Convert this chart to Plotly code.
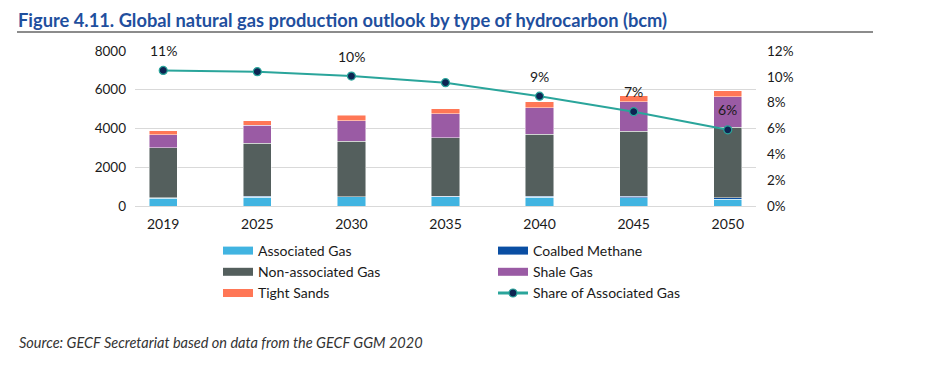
import plotly.graph_objects as go

years = ["2019", "2025", "2030", "2035", "2040", "2045", "2050"]
associated_gas = [408, 458, 471, 480, 457, 416, 350]
coalbed_methane = [22, 42, 19, 15, 35, 100, 65]
non_associated_gas = [2575, 2728, 2842, 3028, 3202, 3354, 3642]
shale_gas = [674, 933, 1072, 1244, 1368, 1519, 1575]
tight_sands = [207, 243, 275, 259, 311, 310, 311]
share_associated = [0.105, 0.104, 0.1006, 0.0955, 0.085, 0.073, 0.059]
share_labels = ["11%", "", "10%", "", "9%", "7%", "6%"]

FONT = "Lato"
TXT = "#1a1a1a"
W, H = 934, 357
OFF = 8
L, T = 135 - OFF, 51 - OFF
PW, PH = 621, 155

fig = go.Figure()
series = [
    ("Associated Gas", associated_gas, "#41b4e1"),
    ("Coalbed Methane", coalbed_methane, "#0a4ea3"),
    ("Non-associated Gas", non_associated_gas, "#545f5d"),
    ("Shale Gas", shale_gas, "#9a5ba4"),
    ("Tight Sands", tight_sands, "#ff7756"),
]
for name, vals, col in series:
    fig.add_trace(go.Bar(
        x=years, y=vals, name=name, marker_color=col,
        marker_line=dict(color="rgba(255,255,255,0.6)", width=0.8),
        width=0.3, showlegend=False, legendgroup=name,
    ))

fig.add_trace(go.Scatter(
    x=years, y=share_associated, name="Share of Associated Gas", yaxis="y2",
    mode="lines+markers",
    line=dict(color="#2aa59b", width=2),
    marker=dict(color="#0e2452", size=8, line=dict(color="#2aa59b", width=1.2)),
    showlegend=False,
))

# legend entries (wide rectangular swatches)
for name, vals, col in series:
    fig.add_trace(go.Scatter(x=[None], y=[None], mode="lines", name=name,
                             line=dict(color=col, width=8), legendgroup=name))
fig.add_trace(go.Scatter(x=[None], y=[None], mode="lines+markers", name="Share of Associated Gas",
                         line=dict(color="#2aa59b", width=3),
                         marker=dict(color="#0e2452", size=8, line=dict(color="#2aa59b", width=1.2))))

for i, (v, lab) in enumerate(zip(share_associated, share_labels)):
    if lab:
        fig.add_annotation(x=i, y=v, xref="x", yref="y2", text=lab, showarrow=False,
                           yshift=20, font=dict(family=FONT, size=14, color=TXT))

fig.update_layout(
    width=W, height=H,
    margin=dict(l=L, r=W - L - PW, t=T, b=H - T - PH),
    paper_bgcolor="white", plot_bgcolor="white",
    barmode="stack",
    font=dict(family=FONT, size=13, color=TXT),
    showlegend=True,
    legend=dict(
        orientation="h", x=(218 - 135) / PW, xanchor="left", y=-(235 - 206) / PH, yanchor="top",
        entrywidth=230, entrywidthmode="pixels", traceorder="normal",
        font=dict(family=FONT, size=14, color=TXT),
        itemwidth=30, tracegroupgap=0, bgcolor="rgba(0,0,0,0)",
    ),
    xaxis=dict(type="category", range=[-0.3, 6.3], showgrid=False, showline=False,
               ticks="", tickfont=dict(size=14), ticklabelstandoff=8),
    yaxis=dict(range=[0, 8000], dtick=2000, showgrid=True, gridcolor="#d9d9d9",
               gridwidth=1, zeroline=True, zerolinecolor="#d9d9d9", zerolinewidth=1,
               tickfont=dict(size=13.5), ticklabelstandoff=8),
    yaxis2=dict(range=[0, 0.12], dtick=0.02, tickformat=".0%", overlaying="y",
                side="right", showgrid=False, zeroline=False, tickfont=dict(size=13.5),
                ticklabelstandoff=10),
)

def px_x(x):
    return (x - 135) / PW

def px_y(y):
    return (206 - y) / PH

fig.add_annotation(
    text="<b>Figure 4.11. Global natural gas production outlook by type of hydrocarbon (bcm)</b>",
    xref="paper", yref="paper", x=px_x(17), y=px_y(8), xanchor="left", yanchor="top",
    borderpad=0,
    showarrow=False, font=dict(family=FONT, size=18.3, color="#1f4f9e"),
)
fig.add_shape(type="line", xref="paper", yref="paper",
              x0=px_x(17), x1=px_x(873), y0=px_y(32), y1=px_y(32),
              line=dict(color="#8c8c8c", width=2.2))
fig.add_annotation(
    text="<i>Source: GECF Secretariat based on data from the GECF GGM 2020</i>",
    xref="paper", yref="paper", x=px_x(17), y=px_y(342), xanchor="left", yanchor="middle",
    showarrow=False, font=dict(family=FONT, size=14.5, color="#333333"),
)

fig.write_html("out.html")
